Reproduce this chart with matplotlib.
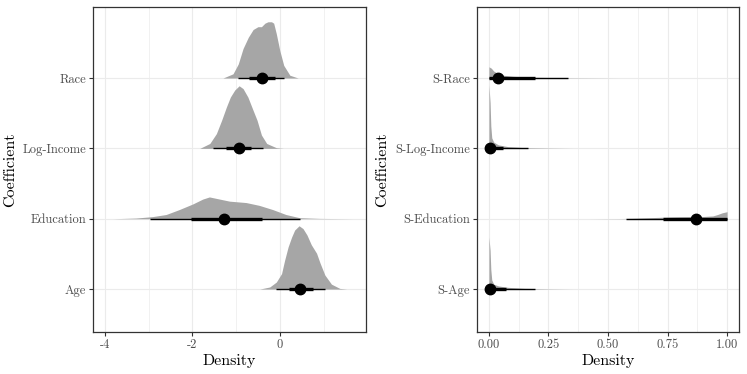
import matplotlib
matplotlib.use("Agg")
import matplotlib.pyplot as plt

plt.rcParams['font.family'] = ['cmr10', 'DejaVu Serif']
plt.rcParams['axes.unicode_minus'] = False
plt.rcParams['axes.formatter.use_mathtext'] = True

# ---- left panel: coefficients (bottom to top) ----
coef_names = ['Age', 'Education', 'Log-Income', 'Race']

age_x = [-0.46, -0.23, -0.08, 0.04, 0.11, 0.19, 0.27, 0.34, 0.44, 0.53, 0.62, 0.72, 0.84, 0.92, 1.03, 1.18, 1.37, 1.53]
age_h = [0.0, 0.03, 0.10, 0.22, 0.41, 0.60, 0.74, 0.84, 0.90, 0.86, 0.77, 0.63, 0.51, 0.37, 0.20, 0.07, 0.01, 0.0]

edu_x = [-3.82, -3.29, -2.91, -2.60, -2.30, -1.99, -1.76, -1.61, -1.38, -1.15, -0.77, -0.47, -0.16, 0.14, 0.45, 0.91, 1.67]
edu_h = [0.0, 0.01, 0.03, 0.06, 0.13, 0.21, 0.28, 0.31, 0.28, 0.25, 0.23, 0.19, 0.13, 0.06, 0.015, 0.005, 0.0]

inc_x = [-1.83, -1.60, -1.45, -1.33, -1.22, -1.13, -1.03, -0.93, -0.84, -0.73, -0.61, -0.52, -0.42, -0.30, -0.08, 0.08]
inc_h = [0.0, 0.07, 0.21, 0.40, 0.59, 0.73, 0.83, 0.89, 0.85, 0.73, 0.54, 0.40, 0.19, 0.07, 0.01, 0.0]

race_x = [-1.30, -1.07, -0.95, -0.84, -0.72, -0.61, -0.50, -0.42, -0.34, -0.27, -0.19, -0.14, -0.08, 0.0, 0.09, 0.23, 0.42]
race_h = [0.0, 0.06, 0.20, 0.42, 0.58, 0.69, 0.73, 0.73, 0.78, 0.80, 0.80, 0.78, 0.63, 0.39, 0.18, 0.04, 0.0]

# median, 66% interval, 95% interval
coef_median = [0.47, -1.27, -0.94, -0.40]
coef_lo66 = [0.21, -2.03, -1.22, -0.70]
coef_hi66 = [0.75, -0.41, -0.66, -0.10]
coef_lo95 = [-0.08, -2.97, -1.52, -0.95]
coef_hi95 = [1.03, 0.47, -0.38, 0.09]

# ---- right panel: inclusion probabilities (bottom to top) ----
s_names = ['S-Age', 'S-Education', 'S-Log-Income', 'S-Race']

s_age_x = [0.0, 0.005, 0.008, 0.012, 0.02, 0.04, 0.08, 0.15, 0.25, 0.35]
s_age_h = [0.74, 0.55, 0.28, 0.13, 0.07, 0.045, 0.025, 0.01, 0.004, 0.0]

s_edu_x = [0.42, 0.55, 0.60, 0.65, 0.70, 0.75, 0.80, 0.85, 0.90, 0.94, 0.96, 0.98, 1.0]
s_edu_h = [0.0, 0.003, 0.006, 0.012, 0.018, 0.024, 0.028, 0.030, 0.032, 0.04, 0.06, 0.085, 0.10]

s_inc_x = [0.0, 0.005, 0.008, 0.012, 0.02, 0.04, 0.08, 0.15, 0.25, 0.35]
s_inc_h = [0.90, 0.65, 0.32, 0.15, 0.09, 0.05, 0.025, 0.01, 0.004, 0.0]

s_race_x = [0.0, 0.01, 0.02, 0.04, 0.06, 0.10, 0.15, 0.20, 0.30, 0.45, 0.55]
s_race_h = [0.16, 0.14, 0.10, 0.06, 0.04, 0.025, 0.015, 0.01, 0.005, 0.002, 0.0]

s_median = [0.003, 0.87, 0.003, 0.038]
s_lo66 = [0.0, 0.73, 0.0, 0.0]
s_hi66 = [0.07, 1.0, 0.06, 0.195]
s_lo95 = [0.0, 0.576, 0.0, 0.0]
s_hi95 = [0.195, 1.0, 0.164, 0.33]

SLAB = '#a6a6a6'
GRID = '#ebebeb'


def halfeye(ax, names, dens, med, lo66, hi66, lo95, hi95):
    for i, (xs, hs) in enumerate(dens):
        y0 = i + 1
        ax.fill_between(xs, [y0] * len(xs), [y0 + h for h in hs],
                        color=SLAB, linewidth=0, zorder=2)
        ax.plot([lo95[i], hi95[i]], [y0, y0], color='black', lw=1.0,
                solid_capstyle='butt', zorder=3)
        ax.plot([lo66[i], hi66[i]], [y0, y0], color='black', lw=2.4,
                solid_capstyle='butt', zorder=4)
        ax.plot(med[i], y0, 'o', color='black', ms=7.5, zorder=5)
    ax.set_yticks(range(1, len(names) + 1))
    ax.set_yticklabels(names)
    ax.set_ylim(0.39, 5.01)


def style(ax):
    ax.grid(True, which='major', color=GRID, lw=0.8, zorder=0)
    ax.grid(True, which='minor', axis='x', color=GRID, lw=0.5, zorder=0)
    ax.set_axisbelow(True)
    for s in ax.spines.values():
        s.set_color('#333333')
        s.set_linewidth(0.9)
    ax.tick_params(which='major', length=3, width=0.8, color='#333333',
                   labelsize=9, labelcolor='#4d4d4d', pad=2)
    ax.tick_params(which='minor', length=0)
    ax.set_xlabel('Density', fontsize=11.5, labelpad=2)
    ax.set_ylabel('Coefficient', fontsize=11.5, labelpad=4)


fig = plt.figure(figsize=(7.47, 3.74), dpi=100)

ax1 = fig.add_axes([93 / 747, 1 - 332 / 374, (366 - 93) / 747, (332 - 7) / 374])
halfeye(ax1, coef_names,
        [(age_x, age_h), (edu_x, edu_h), (inc_x, inc_h), (race_x, race_h)],
        coef_median, coef_lo66, coef_hi66, coef_lo95, coef_hi95)
ax1.set_xlim(-4.27, 1.97)
ax1.set_xticks([-4, -2, 0])
ax1.set_xticklabels(['-4', '-2', '0'])
ax1.set_xticks([-3, -1, 1], minor=True)
style(ax1)

ax2 = fig.add_axes([477 / 747, 1 - 332 / 374, (739 - 477) / 747, (332 - 7) / 374])
halfeye(ax2, s_names,
        [(s_age_x, s_age_h), (s_edu_x, s_edu_h), (s_inc_x, s_inc_h), (s_race_x, s_race_h)],
        s_median, s_lo66, s_hi66, s_lo95, s_hi95)
ax2.set_xlim(-0.05, 1.05)
ax2.set_xticks([0, 0.25, 0.5, 0.75, 1.0])
ax2.set_xticklabels(['0.00', '0.25', '0.50', '0.75', '1.00'])
ax2.set_xticks([0.125, 0.375, 0.625, 0.875], minor=True)
style(ax2)

fig.savefig('out.png', dpi=100)
